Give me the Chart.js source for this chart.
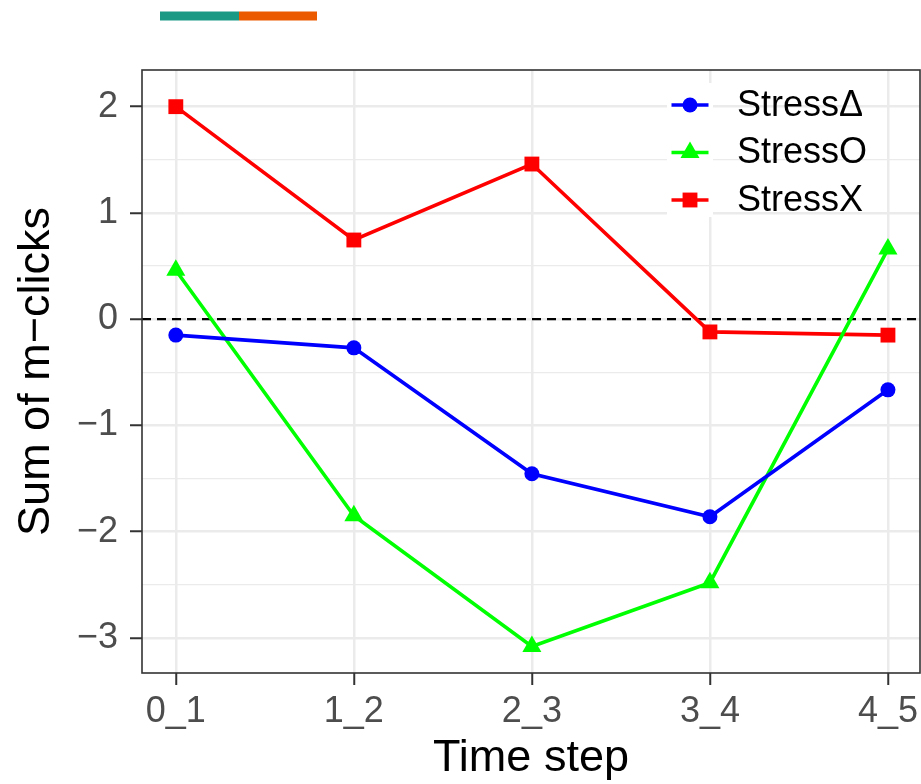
<!DOCTYPE html>
<html>
<head>
<meta charset="utf-8">
<script src="https://cdn.jsdelivr.net/npm/chart.js@4"></script>
<style>
  html, body { margin: 0; padding: 0; background: #fff; }
  canvas { display: block; }
</style>
</head>
<body>
<canvas id="lineChart" width="921" height="784" style="width:921px;height:784px"></canvas>
<script>
var categories = ['0_1', '1_2', '2_3', '3_4', '4_5'];
var seriesNames = ['Stress\u0394', 'StressO', 'StressX'];
var stressDelta = [-0.15, -0.27, -1.455, -1.86, -0.665];
var stressO = [0.46, -1.85, -3.08, -2.48, 0.66];
var stressX = [2.0, 0.745, 1.46, -0.12, -0.15];
var yTickValues = [-3, -2, -1, 0, 1, 2];

var FONT = '"Liberation Sans", Arial, Helvetica, sans-serif';
var PANEL_RIGHT = 920;

function toPoints(vals) {
  return vals.map(function (v, i) { return { x: i, y: v }; });
}
function isWhole(v) { return Math.abs(v - Math.round(v)) < 1e-6; }

var colors = ['#0000FF', '#00FF00', '#FF0000'];
var styles = ['circle', 'triangle', 'rect'];
var radii = [7.5, 11, 10.5];

var datasets = [stressDelta, stressO, stressX].map(function (vals, k) {
  return {
    label: seriesNames[k],
    data: toPoints(vals),
    borderColor: colors[k],
    backgroundColor: colors[k],
    pointBackgroundColor: colors[k],
    pointBorderWidth: 0,
    pointStyle: styles[k],
    pointRadius: radii[k],
    borderWidth: 3.6,
    tension: 0
  };
});

// pin the right edge of the panel, dashed zero line, border, legend, colour strip
var decor = {
  id: 'decor',
  afterLayout: function (chart) {
    var a = chart.chartArea, x = chart.scales.x;
    if (a.right !== PANEL_RIGHT) {
      a.right = PANEL_RIGHT;
      a.width = a.right - a.left;
      x.right = PANEL_RIGHT;
      x.width = x.right - x.left;
      x.configure();
    }
  },
  beforeDatasetsDraw: function (chart) {
    var ctx = chart.ctx, a = chart.chartArea;
    var y0 = chart.scales.y.getPixelForValue(0);
    ctx.save();
    ctx.strokeStyle = '#000';
    ctx.lineWidth = 2.2;
    ctx.setLineDash([9, 6]);
    ctx.beginPath();
    ctx.moveTo(a.left, y0);
    ctx.lineTo(a.right, y0);
    ctx.stroke();
    ctx.restore();
  },
  afterDraw: function (chart) {
    var ctx = chart.ctx, a = chart.chartArea;
    ctx.save();
    // legend
    var kx = a.right - 253, kw = 46;
    ctx.fillStyle = '#fff';
    ctx.fillRect(kx, a.top + 13, kw, 134);
    chart.data.datasets.forEach(function (ds, k) {
      var ry = a.top + 35 + k * 47.5;
      ctx.strokeStyle = ds.borderColor;
      ctx.lineWidth = 3.6;
      ctx.setLineDash([]);
      ctx.beginPath();
      ctx.moveTo(kx + 4.5, ry);
      ctx.lineTo(kx + 41.5, ry);
      ctx.stroke();
      ctx.fillStyle = ds.borderColor;
      Chart.helpers.drawPoint(ctx, { pointStyle: ds.pointStyle, radius: ds.pointRadius, borderWidth: 0, rotation: 0 }, kx + 23, ry);
      ctx.fillStyle = '#000';
      ctx.font = '36px ' + FONT;
      ctx.textBaseline = 'middle';
      ctx.textAlign = 'left';
      ctx.fillText(ds.label, a.right - 183, ry + 1);
    });
    // panel border
    ctx.strokeStyle = '#333333';
    ctx.lineWidth = 1.6;
    ctx.strokeRect(a.left, a.top, a.right - a.left, a.bottom - a.top);
    // colour strip
    ctx.fillStyle = '#1A9A85';
    ctx.fillRect(160, 11.5, 79, 9);
    ctx.fillStyle = '#EC5A00';
    ctx.fillRect(239, 11.5, 78, 9);
    ctx.restore();
  }
};

var config = {
  type: 'line',
  data: { datasets: datasets },
  options: {
    responsive: false,
    animation: false,
    devicePixelRatio: 1,
    layout: { padding: { top: 70, right: 1, left: 0, bottom: 0 } },
    plugins: { legend: { display: false }, tooltip: { enabled: false } },
    scales: {
      x: {
        type: 'linear',
        min: -0.19,
        max: 4.18,
        afterFit: function (s) { s.height = 111; s.paddingLeft = 0; s.paddingRight = 0; },
        border: { display: false },
        grid: {
          color: '#EBEBEB',
          lineWidth: 2.5,
          tickColor: '#333333',
          tickLength: 12,
          tickWidth: 2
        },
        ticks: {
          stepSize: 1,
          includeBounds: false,
          autoSkip: false,
          maxRotation: 0,
          padding: 5,
          color: '#4D4D4D',
          font: { family: FONT, size: 36 },
          callback: function (v) { return isWhole(v) ? categories[Math.round(v)] : ''; }
        },
        title: {
          display: true,
          text: 'Time step',
          color: '#000',
          font: { family: FONT, size: 45, lineHeight: 1 },
          padding: { top: 0, bottom: 3 }
        }
      },
      y: {
        min: -3.33,
        max: 2.345,
        afterFit: function (s) { s.width = 142; s.paddingTop = 0; s.paddingBottom = 0; },
        border: { display: false },
        grid: {
          color: '#EBEBEB',
          lineWidth: function (c) { return c.tick && isWhole(c.tick.value) ? 2.5 : 1.3; },
          tickColor: function (c) { return c.tick && isWhole(c.tick.value) ? '#333333' : 'rgba(0,0,0,0)'; },
          tickLength: 12,
          tickWidth: 2
        },
        ticks: {
          stepSize: 0.5,
          includeBounds: false,
          padding: 12,
          color: '#4D4D4D',
          font: { family: FONT, size: 36 },
          callback: function (v) {
            if (yTickValues.indexOf(Math.round(v)) < 0 || !isWhole(v)) return '';
            var r = Math.round(v);
            return r < 0 ? '\u2212' + Math.abs(r) : String(r);
          }
        },
        title: {
          display: true,
          text: 'Sum of m\u2212clicks',
          color: '#000',
          font: { family: FONT, size: 45, lineHeight: 1 },
          padding: { top: 14, bottom: 0 }
        }
      }
    }
  },
  plugins: [decor]
};

var ctx = document.getElementById('lineChart').getContext('2d');
new Chart(ctx, config);
</script>
</body>
</html>
